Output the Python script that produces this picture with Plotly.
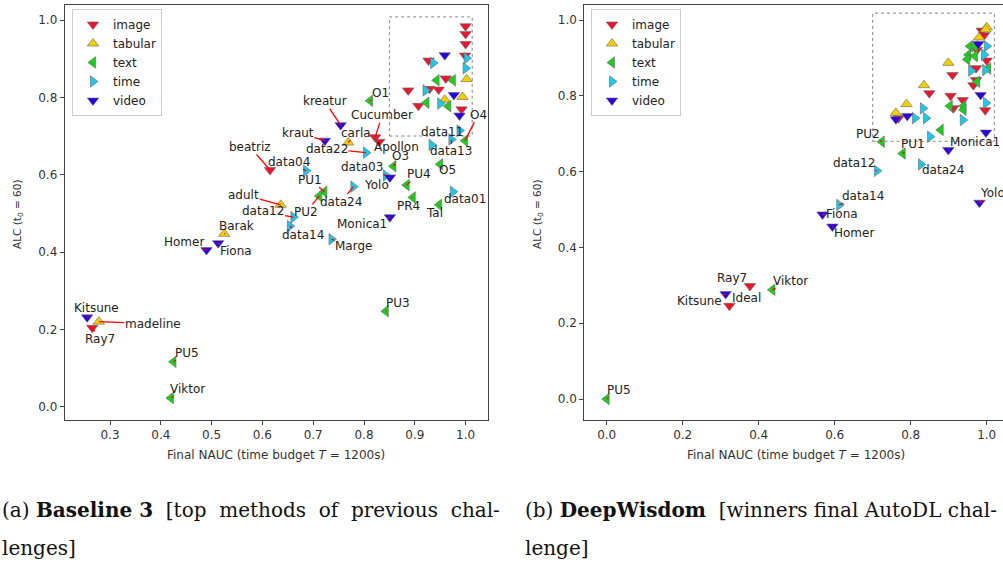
import plotly.graph_objects as go

# ---------------- data ----------------
categories = ["image", "tabular", "text", "time", "video"]

# Left panel: Baseline 3
L_image_x = [1.0, 1.0, 1.0, 0.999, 0.927, 0.961, 0.887, 0.929, 0.947, 0.907, 0.992, 0.822, 0.830, 0.615, 0.265]
L_image_y = [0.984, 0.964, 0.938, 0.908, 0.895, 0.849, 0.818, 0.822, 0.820, 0.778, 0.769, 0.697, 0.685, 0.612, 0.204]
L_image_n = ["", "", "", "", "", "", "", "", "", "", "", "Cucumber", "Apollon", "beatriz", "Ray7"]

L_tabular_x = [1.002, 0.994, 0.959, 0.769, 0.636, 0.525, 0.278]
L_tabular_y = [0.847, 0.801, 0.794, 0.683, 0.522, 0.447, 0.220]
L_tabular_n = ["", "", "", "carla", "adult", "Barak", "madeline"]

L_text_x = [0.943, 0.975, 0.923, 0.966, 0.999, 0.950, 0.858, 0.884, 0.896, 0.948, 0.722, 0.712, 0.425, 0.420, 0.843, 0.812]
L_text_y = [0.844, 0.844, 0.786, 0.777, 0.688, 0.627, 0.622, 0.573, 0.541, 0.522, 0.556, 0.545, 0.116, 0.0225, 0.247, 0.791]
L_text_n = ["", "", "", "", "O4", "O5", "O3", "PU4", "PR4", "Tal", "PU1", "PU2", "PU5", "Viktor", "PU3", "O1"]

L_time_x = [1.002, 1.0, 0.936, 0.921, 0.950, 0.988, 0.972, 0.933, 0.843, 0.975, 0.736, 0.779, 0.661, 0.654, 0.686, 0.804]
L_time_y = [0.901, 0.875, 0.889, 0.818, 0.784, 0.714, 0.691, 0.677, 0.598, 0.556, 0.433, 0.569, 0.490, 0.467, 0.610, 0.657]
L_time_n = ["", "", "", "", "", "data11", "data13", "", "data03", "data01", "Marge", "data24", "data12", "data14", "data04", "data22"]

L_video_x = [0.959, 0.977, 0.988, 0.851, 0.851, 0.490, 0.513, 0.255, 0.723, 0.754]
L_video_y = [0.909, 0.806, 0.753, 0.593, 0.490, 0.405, 0.423, 0.231, 0.688, 0.728]
L_video_n = ["", "", "", "Yolo", "Monica1", "Homer", "Fiona", "Kitsune", "kraut", "kreatur"]

# Right panel: DeepWisdom
R_image_x = [0.768, 0.849, 0.910, 0.905, 0.912, 0.937, 0.972, 0.972, 0.965, 0.996, 1.0, 0.987, 0.974, 0.993, 0.377, 0.323]
R_image_y = [0.741, 0.807, 0.855, 0.800, 0.767, 0.789, 0.873, 0.842, 0.828, 0.762, 0.893, 0.972, 0.921, 0.960, 0.298, 0.246]
R_image_n = ["", "", "", "", "", "", "", "", "", "", "", "", "", "", "Ray7", "Ideal"]

R_tabular_x = [0.761, 0.789, 0.835, 0.899, 0.980, 1.0, 0.997]
R_tabular_y = [0.755, 0.778, 0.828, 0.887, 0.954, 0.981, 0.975]
R_tabular_n = ["", "", "", "", "", "", ""]

R_text_x = [0.879, 0.903, 0.939, 0.939, 0.975, 1.004, 0.956, 0.969, 0.952, 0.969, 0.949, 0.724, 0.779, 0.436, 0.0]
R_text_y = [0.710, 0.773, 0.773, 0.763, 0.837, 0.872, 0.931, 0.930, 0.908, 0.905, 0.896, 0.679, 0.648, 0.288, 0.0]
R_text_n = ["", "", "", "", "", "", "", "", "", "", "", "PU2", "PU1", "Viktor", "PU5"]

R_time_x = [0.811, 0.832, 0.840, 0.851, 0.937, 0.959, 0.996, 0.998, 1.0, 0.993, 0.711, 0.827, 0.612]
R_time_y = [0.741, 0.767, 0.741, 0.692, 0.736, 0.866, 0.868, 0.781, 0.931, 0.908, 0.602, 0.619, 0.512]
R_time_n = ["", "", "", "", "", "", "", "", "", "", "data12", "data24", "data14"]

R_video_x = [0.761, 0.791, 0.984, 0.998, 0.978, 0.899, 0.981, 0.568, 0.594, 0.313]
R_video_y = [0.738, 0.747, 0.802, 0.703, 0.937, 0.657, 0.518, 0.487, 0.455, 0.277]
R_video_n = ["", "", "", "", "", "Monica1", "Yolo", "Fiona", "Homer", "Kitsune"]

L_xticks = [0.3, 0.4, 0.5, 0.6, 0.7, 0.8, 0.9, 1.0]
R_xticks = [0.0, 0.2, 0.4, 0.6, 0.8, 1.0]
yticks = [0.0, 0.2, 0.4, 0.6, 0.8, 1.0]

x_title = "Final NAUC (time budget <i>T</i> = 1200s)"
y_title = "ALC (t<sub>0</sub> = 60)"
cap_a1 = "(a) <b>Baseline 3</b>  [top  methods  of  previous  chal-"
cap_a2 = "lenges]"
cap_b1 = "(b) <b>DeepWisdom</b>  [winners final AutoDL chal-"
cap_b2 = "lenge]"

# ---------------- styles ----------------
W, H = 1003, 564
colors = {"image": "#e8162e", "tabular": "#f2d000", "text": "#20cc20",
          "time": "#20c8e8", "video": "#2a00e0"}
symbols = {"image": "triangle-down", "tabular": "triangle-up", "text": "triangle-left",
           "time": "triangle-right", "video": "triangle-down"}

# label text offsets in pixels (dx, dy), screen coords
L_off = {"O1": (10, -8), "kreatur": (-16, -24), "Cucumber": (7, -22), "carla": (8, -10),
         "kraut": (-27, -8), "data22": (-39, -4), "Apollon": (17, 5), "O3": (7, -10),
         "data03": (-24, -8), "data04": (-17, -9), "beatriz": (-20, -23), "data11": (-18, 1),
         "data13": (0, 12), "O4": (13, -26), "O5": (7, 6), "PU4": (12, -11), "Yolo": (-13, 8),
         "PU1": (-14, -12), "data24": (-12, 15), "PU2": (-13, 16), "adult": (-37, -10),
         "data12": (-30, -6), "data14": (13, 9), "Marge": (22, 7), "Monica1": (-28, 7),
         "PR4": (-4, 8), "Tal": (-5, 8), "data01": (12, 7), "Barak": (12, -8),
         "Homer": (-23, -8), "Fiona": (18, 8), "Kitsune": (9, -9), "madeline": (54, 2),
         "Ray7": (8, 11), "PU5": (13, -9), "Viktor": (17, -9), "PU3": (12, -8)}
R_off = {"PU2": (-14, -8), "PU1": (10, -9), "Monica1": (27, -8), "data12": (-23, -8),
         "data24": (22, 6), "Yolo": (13, -10), "data14": (24, -9), "Fiona": (19, 0),
         "Homer": (22, 6), "Ray7": (-18, -8), "Kitsune": (-26, 7), "Ideal": (17, -8),
         "Viktor": (18, -9), "PU5": (12, -9)}

# pixel geometry
L_left, L_right = 64.7, 488.0
R_left = 584.3
top_px, bot_px = 5.0, 420.0

fig = go.Figure()

panels = [
    ("L", "x", "y", "legend",
     {"image": (L_image_x, L_image_y, L_image_n), "tabular": (L_tabular_x, L_tabular_y, L_tabular_n),
      "text": (L_text_x, L_text_y, L_text_n), "time": (L_time_x, L_time_y, L_time_n),
      "video": (L_video_x, L_video_y, L_video_n)}, L_off),
    ("R", "x2", "y2", "legend2",
     {"image": (R_image_x, R_image_y, R_image_n), "tabular": (R_tabular_x, R_tabular_y, R_tabular_n),
      "text": (R_text_x, R_text_y, R_text_n), "time": (R_time_x, R_time_y, R_time_n),
      "video": (R_video_x, R_video_y, R_video_n)}, R_off),
]

annotations = []
label_font = dict(family="DejaVu Sans", size=12, color="#222222")
for tag, xa, ya, leg, series, offs in panels:
    for cat in categories:
        xs, ys, ns = series[cat]
        fig.add_trace(go.Scatter(
            x=xs, y=ys, mode="markers", name=cat, xaxis=xa, yaxis=ya, legend=leg,
            marker=dict(symbol=symbols[cat], size=10, color=colors[cat],
                        line=dict(color="#666666", width=0.6)),
            cliponaxis=False))
        for xv, yv, nm in zip(xs, ys, ns):
            if not nm:
                continue
            dx, dy = offs.get(nm, (10, -8))
            annotations.append(dict(
                x=xv, y=yv, xref=xa, yref=ya, text=nm, showarrow=True,
                ax=dx, ay=dy, arrowhead=0, arrowwidth=1.3, arrowcolor="red",
                standoff=0, startstandoff=0, font=label_font, borderpad=0))

def py(p):
    return 1 - p / H

# axis titles and captions
tfont = dict(family="DejaVu Sans", size=12, color="#333333")
annotations += [
    dict(x=(L_left + L_right) / 2 / W, y=py(455), xref="paper", yref="paper", text=x_title,
         showarrow=False, font=tfont, xanchor="center", yanchor="middle"),
    dict(x=(R_left + (R_left + L_right - L_left)) / 2 / W, y=py(455), xref="paper", yref="paper",
         text=x_title, showarrow=False, font=tfont, xanchor="center", yanchor="middle"),
    dict(x=18 / W, y=py(214), xref="paper", yref="paper", text=y_title, textangle=-90,
         showarrow=False, font=dict(family="DejaVu Sans", size=10.5, color="#333333"),
         xanchor="center", yanchor="middle"),
    dict(x=538 / W, y=py(214), xref="paper", yref="paper", text=y_title, textangle=-90,
         showarrow=False, font=dict(family="DejaVu Sans", size=10.5, color="#333333"),
         xanchor="center", yanchor="middle"),
]
cfont = dict(family="DejaVu Serif", size=20, color="#111111")
annotations += [
    dict(x=0, y=py(510), xref="paper", yref="paper", text=cap_a1, showarrow=False,
         font=cfont, xanchor="left", yanchor="middle"),
    dict(x=0, y=py(548), xref="paper", yref="paper", text=cap_a2, showarrow=False,
         font=cfont, xanchor="left", yanchor="middle"),
    dict(x=523 / W, y=py(510), xref="paper", yref="paper", text=cap_b1, showarrow=False,
         font=cfont, xanchor="left", yanchor="middle"),
    dict(x=523 / W, y=py(548), xref="paper", yref="paper", text=cap_b2, showarrow=False,
         font=cfont, xanchor="left", yanchor="middle"),
]

# dashed zoom boxes
shapes = [
    dict(type="rect", xref="x", yref="y", x0=0.85, x1=1.013, y0=0.70, y1=1.008,
         line=dict(color="#777777", width=0.9, dash="dot")),
    dict(type="rect", xref="x2", yref="y2", x0=0.70, x1=1.02, y0=0.68, y1=1.018,
         line=dict(color="#777777", width=0.9, dash="dot")),
]

def xr(px_left, px_right, x_at, px_at, ppu):
    return [x_at - (px_at - px_left) / ppu, x_at + (px_right - px_at) / ppu]

L_ppu = 508.0
R_ppu = 380.0
L_yppu = 386.7
R_yppu = 379.0

tickfont = dict(family="DejaVu Sans", size=12, color="#333333")
axis_common = dict(showgrid=False, zeroline=False, showline=True, linecolor="#444444",
                   linewidth=1, ticks="outside", ticklen=4, tickcolor="#444444",
                   tickfont=tickfont, tickformat=".1f")

fig.update_layout(
    width=W, height=H, margin=dict(l=0, r=0, t=0, b=0),
    paper_bgcolor="white", plot_bgcolor="white",
    xaxis=dict(domain=[L_left / W, L_right / W], anchor="y",
               range=xr(L_left, L_right, 0.3, 110.0, L_ppu), tickvals=L_xticks,
               mirror=True, **axis_common),
    yaxis=dict(domain=[py(bot_px), py(top_px)], anchor="x",
               range=[0.0 - (bot_px - 406.7) / L_yppu, 1.0 + (20.0 - top_px) / L_yppu],
               tickvals=yticks, mirror=True, **axis_common),
    xaxis2=dict(domain=[R_left / W, 1.0], anchor="y2",
                range=xr(R_left, W, 0.0, 606.7, R_ppu), tickvals=R_xticks,
                mirror=True, **axis_common),
    yaxis2=dict(domain=[py(bot_px), py(top_px)], anchor="x2",
                range=[0.0 - (bot_px - 399.0) / R_yppu, 1.0 + (20.0 - top_px) / R_yppu],
                tickvals=yticks, mirror=False, **axis_common),
    legend=dict(x=72 / W, y=py(9), xanchor="left", yanchor="top", bgcolor="white",
                bordercolor="#cccccc", borderwidth=1,
                font=dict(family="DejaVu Sans", size=12, color="#222222"),
                tracegroupgap=0, itemwidth=30),
    legend2=dict(x=591 / W, y=py(9), xanchor="left", yanchor="top", bgcolor="white",
                 bordercolor="#cccccc", borderwidth=1,
                 font=dict(family="DejaVu Sans", size=12, color="#222222"),
                 tracegroupgap=0, itemwidth=30),
    annotations=annotations, shapes=shapes, showlegend=True,
)

fig.write_html("out.html", config={"displayModeBar": False},
               post_script="document.body.style.margin='0';document.body.style.overflow='hidden';")
